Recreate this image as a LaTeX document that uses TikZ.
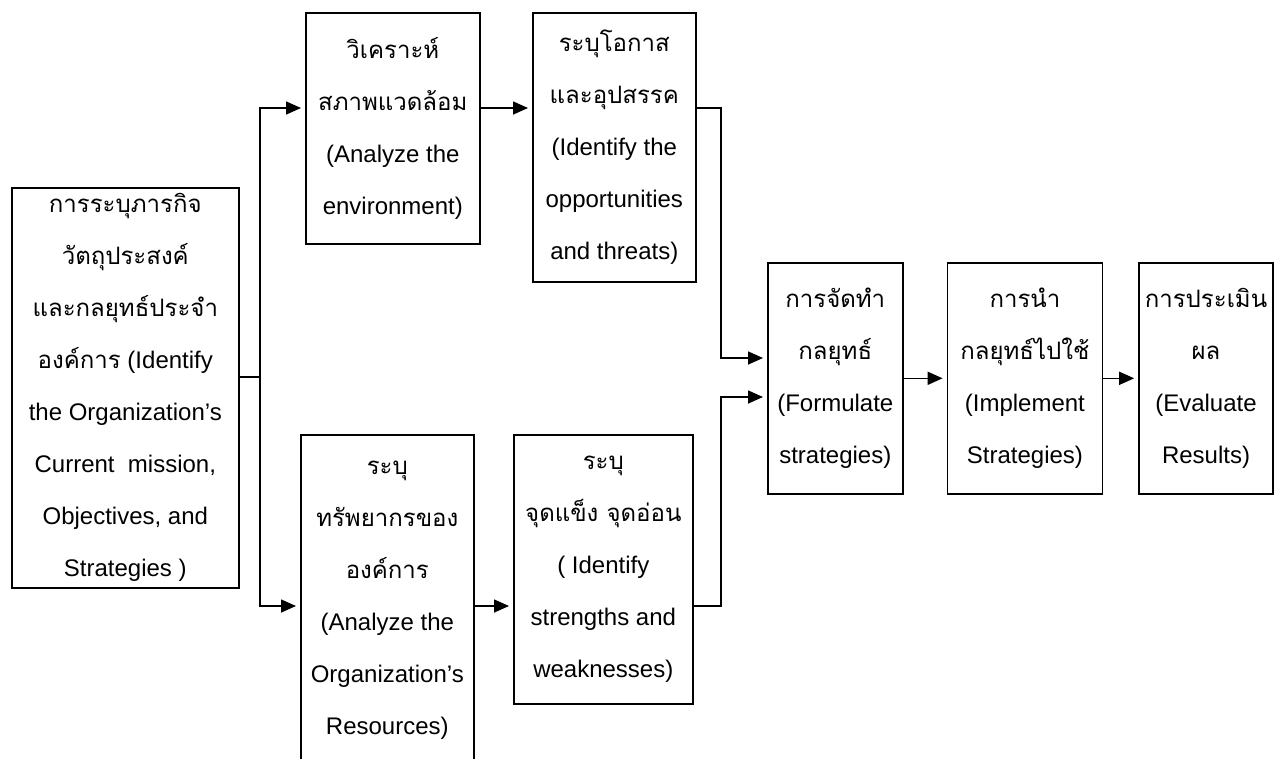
\documentclass[tikz,border=0pt]{standalone}
\usepackage{fontspec}
\setmainfont{Liberation Sans}
\newfontfamily\thaifont[Script=Thai]{Loma}
\usepackage{tikz}
\usetikzlibrary{arrows.meta,positioning}

\begin{document}
\begin{tikzpicture}[x=1pt, y=-1pt,
      blk/.style={draw, line width=1.6pt, inner sep=0pt, align=center,
                  font=\fontsize{24}{52}\selectfont},
      arr/.style={-{Triangle[length=15pt,width=13pt]}, line width=1.6pt, shorten >=4pt},
      ln/.style={line width=1.6pt}
  ]
    \useasboundingbox (0,0) rectangle (1276,758);
    \node[blk, anchor=north west, minimum width=227pt, minimum height=400pt] (mis) at (11,187)
      {{\thaifont การระบุภารกิจ}\\ {\thaifont วัตถุประสงค์}\\ {\thaifont และกลยุทธ์ประจำ}\\
       {\thaifont องค์การ} (Identify\\ the Organization’s\\ Current\ \ mission,\\
       Objectives, and\\ Strategies )};
    \node[blk, anchor=north west, minimum width=174pt, minimum height=231pt] (envi) at (305,12)
      {{\thaifont วิเคราะห์}\\ {\thaifont สภาพแวดล้อม}\\ (Analyze the\\ environment)};
    \node[blk, anchor=north west, minimum width=163pt, minimum height=269pt] (opp) at (532,12)
      {{\thaifont ระบุโอกาส}\\ {\thaifont และอุปสรรค}\\ (Identify the\\ opportunities\\ and threats)};
    \node[blk, anchor=north west, minimum width=173pt, minimum height=330pt] (res) at (300,434)
      {{\thaifont ระบุ}\\ {\thaifont ทรัพยากรของ}\\ {\thaifont องค์การ}\\ (Analyze the\\
       Organization’s\\ Resources)};
    \node[blk, anchor=north west, minimum width=179pt, minimum height=269pt] (swo) at (513,434)
      {{\thaifont ระบุ}\\ {\thaifont จุดแข็ง จุดอ่อน}\\ ( Identify\\ strengths and\\ weaknesses)};
    \node[blk, anchor=north west, minimum width=135pt, minimum height=231pt] (form) at (767,262)
      {{\thaifont การจัดทำ}\\ {\thaifont กลยุทธ์}\\ (Formulate\\ strategies)};
    \node[blk, right=43pt of form, minimum width=155pt, minimum height=231pt] (impl)
      {{\thaifont การนำ}\\ {\thaifont กลยุทธ์ไปใช้}\\ (Implement\\ Strategies)};
    \node[blk, right=35pt of impl, minimum width=134pt, minimum height=231pt] (eval)
      {{\thaifont การประเมิน}\\ {\thaifont ผล}\\ (Evaluate\\ Results)};

    % joints of the connectors
    \coordinate (fork) at (260,377);
    \coordinate (rowA) at (0,108);
    \coordinate (rowB) at (0,606);
    \coordinate (inA) at (721,358);
    \coordinate (inB) at (721,397);

    \draw[ln] (mis.east |- fork) -- (fork);
    \draw[arr] (fork) |- (envi.west |- rowA);
    \draw[arr] (fork) |- (res.west |- rowB);
    \draw[arr] (envi.east |- rowA) -- (opp.west |- rowA);
    \draw[arr] (res.east |- rowB) -- (swo.west |- rowB);
    \draw[arr] (opp.east |- rowA) -| (inA) -- (form.west |- inA);
    \draw[arr] (swo.east |- rowB) -| (inB) -- (form.west |- inB);
    \draw[arr] (form) -- (impl);
    \draw[arr] (impl) -- (eval);
\end{tikzpicture}
\end{document}
